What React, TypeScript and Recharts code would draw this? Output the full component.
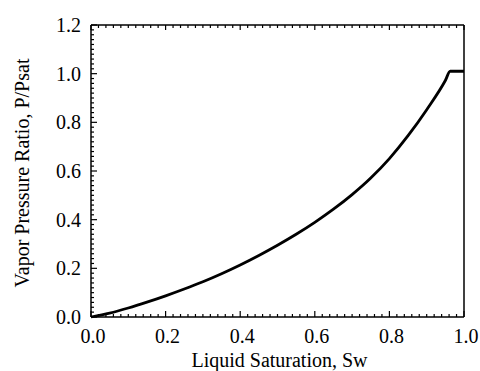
import { LineChart, Line, XAxis, YAxis, Label } from 'recharts';

// liquid saturation Sw
const saturation = [0, 0.05, 0.1, 0.15, 0.2, 0.25, 0.3, 0.35, 0.4, 0.45, 0.5, 0.55, 0.6, 0.65, 0.7, 0.75, 0.8, 0.85, 0.9, 0.95, 0.963, 1.0];
// vapor pressure ratio P/Psat
const pressureRatio = [0, 0.016, 0.037, 0.061, 0.087, 0.115, 0.145, 0.178, 0.214, 0.253, 0.295, 0.34, 0.389, 0.443, 0.503, 0.571, 0.651, 0.745, 0.852, 0.972, 1.01, 1.01];

const xMajorTicks = [0, 0.2, 0.4, 0.6, 0.8, 1.0];
const xTickLabels = ['0.0', '0.2', '0.4', '0.6', '0.8', '1.0'];
const yMajorTicks = [0, 0.2, 0.4, 0.6, 0.8, 1.0, 1.2];
const yTickLabels = ['0.0', '0.2', '0.4', '0.6', '0.8', '1.0', '1.2'];

// minor tick every 0.02
const xMinorTicks = Array.from({ length: 51 }, (_, i) => Math.round(i * 2) / 100);
const yMinorTicks = Array.from({ length: 61 }, (_, i) => Math.round(i * 2) / 100);

const data = saturation.map((sw, i) => ({ sw, ratio: pressureRatio[i] }));

const textStyle = { fontFamily: '"Times New Roman", "Liberation Serif", serif', fontSize: 20 };

const majorIndex = (ticks: number[], v: number) => ticks.findIndex((t) => Math.abs(t - v) < 1e-6);

const BottomTick = (props: any) => {
	const { x, y, payload } = props;
	const idx = majorIndex(xMajorTicks, payload.value);
	return (
		<g>
			<path d={`M${x},${y}V${y - (idx >= 0 ? 6 : 3)}`} stroke="#000" strokeWidth={1.2} fill="none" />
			{idx >= 0 && (
				<text x={x + 2} y={y + 26} textAnchor="middle" style={textStyle} fill="#000">
					{xTickLabels[idx]}
				</text>
			)}
		</g>
	);
};

const TopTick = (props: any) => {
	const { x, y, payload } = props;
	const idx = majorIndex(xMajorTicks, payload.value);
	return <path d={`M${x},${y}V${y + (idx >= 0 ? 5 : 3)}`} stroke="#000" strokeWidth={1.2} fill="none" />;
};

const LeftTick = (props: any) => {
	const { x, y, payload } = props;
	const idx = majorIndex(yMajorTicks, payload.value);
	return (
		<g>
			<path d={`M${x},${y}H${x + (idx >= 0 ? 6 : 3)}`} stroke="#000" strokeWidth={1.2} fill="none" />
			{idx >= 0 && (
				<text x={x - 10} y={y} dy="0.35em" textAnchor="end" style={textStyle} fill="#000">
					{yTickLabels[idx]}
				</text>
			)}
		</g>
	);
};

const YTitle = (props: any) => {
	const { viewBox } = props;
	const cx = viewBox.x + 29;
	const cy = viewBox.y + viewBox.height / 2 + 2;
	return (
		<text x={cx} y={cy} transform={`rotate(-90, ${cx}, ${cy})`} textAnchor="middle" style={textStyle} fill="#000">
			Vapor Pressure Ratio, P/Psat
		</text>
	);
};

const XTitle = (props: any) => {
	const { viewBox } = props;
	const cx = viewBox.x + viewBox.width / 2 + 2;
	return (
		<text x={cx} y={367} textAnchor="middle" style={textStyle} fill="#000">
			Liquid Saturation, Sw
		</text>
	);
};

const App = () => {
	return (
		<div style={{ position: 'absolute', left: 0, top: 0, background: '#fff' }}>
			<LineChart width={480} height={371} data={data} margin={{ top: 24, right: 15, left: 0, bottom: 24 }}>
				<XAxis
					dataKey="sw"
					type="number"
					domain={[0, 1]}
					ticks={xMinorTicks}
					interval={0}
					tick={BottomTick}
					tickLine={false}
					tickSize={0}
					tickMargin={0}
					height={30}
					axisLine={{ stroke: '#000', strokeWidth: 1.5 }}
				>
					<Label content={XTitle} />
				</XAxis>
				<XAxis
					xAxisId="top"
					dataKey="sw"
					orientation="top"
					type="number"
					domain={[0, 1]}
					ticks={xMinorTicks}
					interval={0}
					tick={TopTick}
					tickLine={false}
					tickSize={0}
					tickMargin={0}
					height={1}
					axisLine={{ stroke: '#000', strokeWidth: 1.5 }}
				/>
				<YAxis
					type="number"
					domain={[0, 1.2]}
					ticks={yMinorTicks}
					interval={0}
					tick={LeftTick}
					tickLine={false}
					tickSize={0}
					tickMargin={0}
					width={91}
					axisLine={{ stroke: '#000', strokeWidth: 1.5 }}
				>
					<Label content={YTitle} />
				</YAxis>
				<YAxis
					yAxisId="right"
					orientation="right"
					type="number"
					domain={[0, 1.2]}
					tick={false}
					tickLine={false}
					width={1}
					axisLine={{ stroke: '#000', strokeWidth: 1.5 }}
				/>
				{/* invisible copy so the frame axes (top/right) are bound to data */}
				<Line
					xAxisId="top"
					yAxisId="right"
					type="linear"
					dataKey="ratio"
					stroke="none"
					dot={false}
					legendType="none"
					isAnimationActive={false}
				/>
				<Line
					type="monotone"
					dataKey="ratio"
					stroke="#000"
					strokeWidth={2.8}
					dot={false}
					isAnimationActive={false}
				/>
			</LineChart>
		</div>
	);
};

export default App;
